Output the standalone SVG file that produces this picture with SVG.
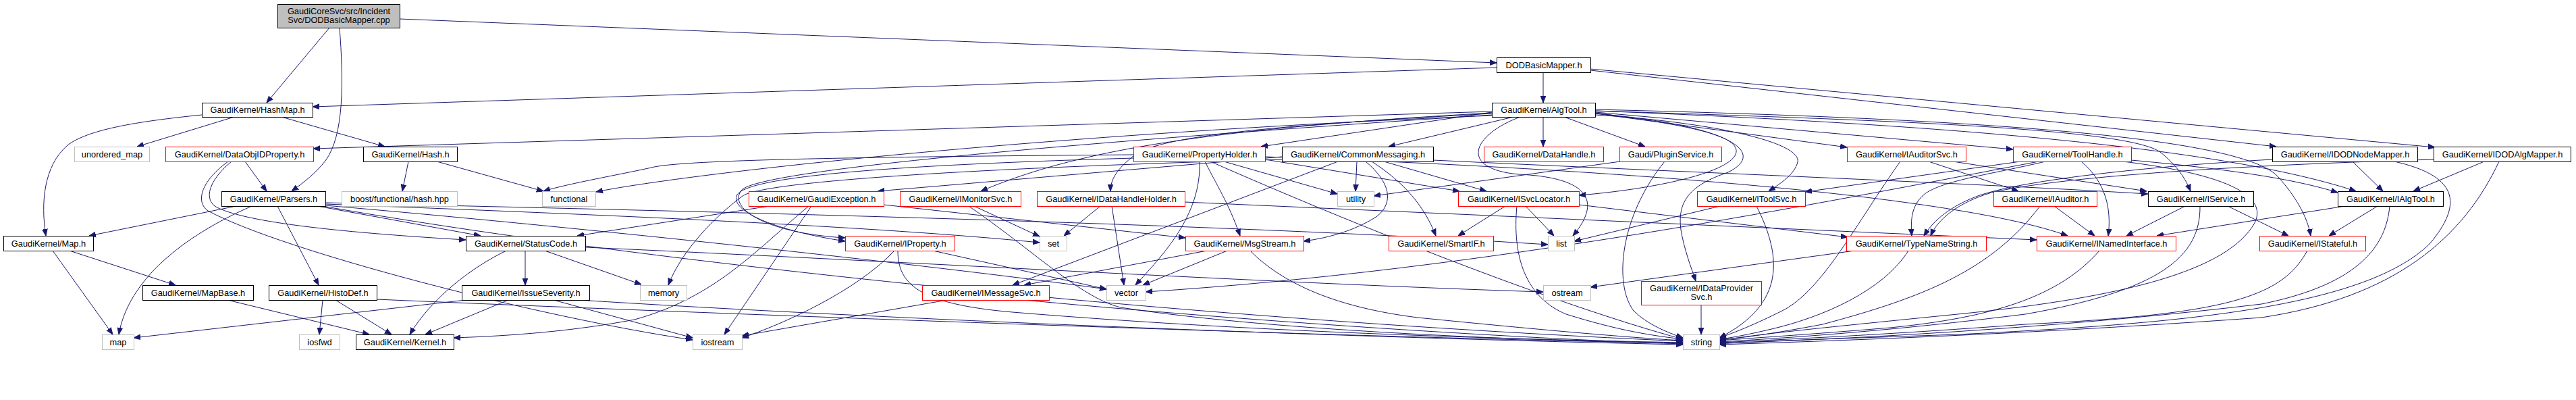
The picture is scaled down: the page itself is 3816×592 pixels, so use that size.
<svg xmlns="http://www.w3.org/2000/svg" width="3816" height="592" viewBox="0 0 3816 592">
<style>
.node rect{fill:#ffffff;stroke:#000000;stroke-width:1}
.node.red rect{stroke:#ff0000}
.node.sys rect{stroke:#bfbfbf}
.node.root rect{fill:#bfbfbf;stroke:#000000}
.node text{font-family:"Liberation Sans",Arial,Helvetica,sans-serif;font-size:12.8px;fill:#000000;text-anchor:middle}
#edges path{fill:none;stroke:#191970;stroke-width:1;marker-end:url(#ah)}
</style>
<defs>
<marker id="ah" viewBox="0 0 10 10" refX="10" refY="5" markerWidth="10" markerHeight="10" markerUnits="userSpaceOnUse" orient="auto">
<path d="M0,1.2 L10,5 L0,8.8 z" fill="#191970" stroke="#191970" stroke-width="1"/>
</marker>
</defs>
<rect width="3816" height="592" fill="#ffffff"/>
<g id="edges">
<path d="M488,41 L395,152"/>
<path d="M503,41 C509,120 510,200 482,238 C468,256 450,270 432,283"/>
<path d="M592,28 L2217,93"/>
<path d="M2217,100 L463,158"/>
<path d="M2286,107 L2286,152"/>
<path d="M2356,104 L3372,217"/>
<path d="M2356,102 L3607,218"/>
<path d="M299,170 C200,180 130,192 100,215 C65,245 60,300 68,349"/>
<path d="M347,173 L203,217"/>
<path d="M417,173 L570,217"/>
<path d="M605,239 L596,283"/>
<path d="M647,239 L805,283"/>
<path d="M363,239 L395,283"/>
<path d="M343,239 C315,262 300,290 318,305 C360,330 520,345 690,355"/>
<path d="M338,239 C300,266 288,298 308,312 C420,372 800,470 1026,503"/>
<path d="M350,305 L132,349"/>
<path d="M373,305 C270,350 190,415 176,495"/>
<path d="M411,305 L472,422"/>
<path d="M470,305 L712,349"/>
<path d="M482,302 C900,318 1300,335 1540,359"/>
<path d="M482,300 C1000,312 1800,330 2293,362"/>
<path d="M482,304 C900,340 1400,395 1639,428"/>
<path d="M478,305 C900,380 1700,470 2493,505"/>
<path d="M478,444 L473,495"/>
<path d="M497,444 L580,495"/>
<path d="M558,443 C1000,462 2000,500 2493,508"/>
<path d="M337,444 L547,495"/>
<path d="M78,371 L167,495"/>
<path d="M103,371 L260,422"/>
<path d="M750,371 C700,395 640,440 607,495"/>
<path d="M778,371 L778,422"/>
<path d="M807,371 L950,421"/>
<path d="M867,366 C1300,385 1900,420 2286,432"/>
<path d="M690,444 L198,500"/>
<path d="M753,444 L630,495"/>
<path d="M820,444 L1026,500"/>
<path d="M857,444 C1300,472 2000,500 2493,510"/>
<path d="M1140,305 L855,349"/>
<path d="M1198,305 C1120,370 1060,440 940,473 C850,490 760,497 672,500"/>
<path d="M1202,305 L1073,495"/>
<path d="M1309,303 L1756,352"/>
<path d="M1325,371 C1270,430 1160,480 1099,500"/>
<path d="M1330,371 C1330,420 1360,450 1500,462 C1900,495 2300,503 2493,507"/>
<path d="M1382,371 L1639,428"/>
<path d="M1403,444 L1099,497"/>
<path d="M1517,444 C1900,480 2300,503 2493,509"/>
<path d="M1443,305 L1540,350"/>
<path d="M1435,305 C1530,370 1600,440 1660,455 C1900,492 2300,505 2493,508"/>
<path d="M1630,305 L1576,349"/>
<path d="M1647,305 L1665,422"/>
<path d="M1755,299 L3017,355"/>
<path d="M1679,229 C1300,232 1010,236 965,248 C920,258 840,272 805,283"/>
<path d="M1679,234 C1300,245 1110,262 1092,288 C1080,310 1140,340 1252,357"/>
<path d="M1785,239 C1800,270 1820,300 1837,349"/>
<path d="M1777,239 C1780,320 1720,380 1682,422"/>
<path d="M1874,236 L2162,283"/>
<path d="M1813,239 L1981,287"/>
<path d="M1793,239 C2000,330 2300,450 2493,502"/>
<path d="M1874,232 C2400,250 2900,290 3063,349"/>
<path d="M2010,239 L2008,283"/>
<path d="M2023,239 C2060,270 2065,300 2040,320 C2010,340 1970,352 1931,357"/>
<path d="M2032,239 C2080,270 2110,305 2127,349"/>
<path d="M2050,239 L2202,283"/>
<path d="M1982,239 L1500,422"/>
<path d="M2123,237 C2500,255 2900,270 3182,287"/>
<path d="M1899,232 L1300,283"/>
<path d="M1899,236 C1400,250 1130,270 1100,290 C1060,320 1010,370 990,422"/>
<path d="M1788,371 L1517,422"/>
<path d="M1818,371 L1693,422"/>
<path d="M1852,371 C1900,420 1980,455 2100,470 C2300,490 2420,500 2493,504"/>
<path d="M2230,305 L2160,349"/>
<path d="M2260,305 L2302,349"/>
<path d="M2247,305 C2240,380 2260,440 2320,465 C2400,490 2450,497 2493,502"/>
<path d="M2339,303 L2737,351"/>
<path d="M2242,173 L2057,217"/>
<path d="M2286,173 L2286,217"/>
<path d="M2317,173 L2437,217"/>
<path d="M2363,168 L2736,218"/>
<path d="M2363,166 L2982,221"/>
<path d="M2252,173 C2180,200 2160,250 2250,258 C2340,262 2380,290 2330,349"/>
<path d="M2363,167 C2500,185 2575,200 2572,225 C2568,255 2450,280 2339,289"/>
<path d="M2363,170 C2530,180 2670,210 2663,240 C2658,258 2640,270 2620,283"/>
<path d="M2363,168 C2560,185 2620,225 2560,255 C2500,275 2485,300 2490,340 C2495,370 2505,395 2512,416"/>
<path d="M2363,164 C2900,185 3300,220 3490,283"/>
<path d="M2363,162 C2900,175 3320,200 3375,262 C3400,290 3418,320 3423,349"/>
<path d="M2363,164 C2800,178 3150,190 3200,225 C3225,245 3238,265 3245,283"/>
<path d="M2210,165 L464,220"/>
<path d="M2210,166 L1868,217"/>
<path d="M2210,167 C1800,190 1600,220 1453,283"/>
<path d="M2210,168 C1900,185 1720,200 1680,230 C1655,250 1645,265 1645,283"/>
<path d="M2210,170 C1600,210 1140,250 1100,280 C1075,305 1130,345 1252,352"/>
<path d="M2210,171 C1500,200 1000,260 883,284"/>
<path d="M2400,239 L2035,290"/>
<path d="M2466,239 C2400,320 2390,420 2420,460 C2440,480 2470,492 2493,500"/>
<path d="M2548,305 L2332,357"/>
<path d="M2602,305 C2640,380 2645,450 2547,500"/>
<path d="M2857,239 L2990,283"/>
<path d="M2893,239 L3180,283"/>
<path d="M2815,239 C2750,330 2700,430 2640,460 C2600,480 2570,492 2547,500"/>
<path d="M2993,239 L2674,284"/>
<path d="M3020,239 C2700,300 2200,400 1697,432"/>
<path d="M3030,239 C2950,258 2870,268 2848,290 C2832,305 2830,325 2832,349"/>
<path d="M3083,239 C3120,270 3128,310 3123,349"/>
<path d="M3157,237 C3300,250 3400,265 3463,285"/>
<path d="M3145,239 C3300,258 3360,290 3340,330 C3300,400 3150,440 2900,465 C2700,485 2600,495 2547,504"/>
<path d="M3043,305 L3103,349"/>
<path d="M3022,305 C2950,400 2850,440 2700,480 C2620,495 2580,500 2547,503"/>
<path d="M3237,305 L3150,349"/>
<path d="M3300,305 L3390,349"/>
<path d="M3259,305 C3260,380 3200,430 3000,465 C2800,490 2650,500 2547,506"/>
<path d="M3110,371 C3050,440 2950,470 2800,485 C2680,495 2600,500 2547,504"/>
<path d="M3418,371 C3380,440 3300,465 3000,480 C2800,495 2650,502 2547,507"/>
<path d="M3474,305 L3195,349"/>
<path d="M3522,305 L3450,349"/>
<path d="M3540,305 C3535,360 3500,420 3350,450 C3100,480 2800,500 2547,508"/>
<path d="M3485,239 L3530,283"/>
<path d="M3366,236 C3200,245 3000,265 2930,290 C2890,305 2865,325 2850,349"/>
<path d="M3547,239 C3640,260 3650,300 3600,360 C3500,460 3200,480 2900,495 C2700,502 2600,505 2547,509"/>
<path d="M3680,239 L3575,283"/>
<path d="M3605,236 C3300,245 3050,262 2950,285 C2900,300 2870,325 2860,349"/>
<path d="M3702,239 C3650,350 3550,440 3350,470 C3000,495 2700,505 2547,510"/>
<path d="M2747,371 L2356,425"/>
<path d="M2827,371 C2790,430 2700,470 2620,488 C2590,495 2565,500 2547,502"/>
<path d="M2520,451 L2520,495"/>
</g>
<g id="n_root" class="node root"><rect x="411.5" y="6.5" width="181" height="35"/><text x="502" y="21">GaudiCoreSvc/src/Incident</text><text x="502" y="33.5">Svc/DODBasicMapper.cpp</text></g>
<g id="n_hashmap" class="node"><rect x="299.5" y="152.5" width="164" height="21"/><text x="381.5" y="166.5">GaudiKernel/HashMap.h</text></g>
<g id="n_dodbasicmapper" class="node"><rect x="2217.5" y="85.5" width="139" height="22"/><text x="2287" y="100.5">DODBasicMapper.h</text></g>
<g id="n_algtool" class="node"><rect x="2210.5" y="152.5" width="153" height="21"/><text x="2287" y="166.5">GaudiKernel/AlgTool.h</text></g>
<g id="n_unordered_map" class="node sys"><rect x="110.5" y="217.5" width="111" height="22"/><text x="166" y="232.5">unordered_map</text></g>
<g id="n_dataobjidproperty" class="node red"><rect x="245.5" y="217.5" width="219" height="22"/><text x="355" y="232.5">GaudiKernel/DataObjIDProperty.h</text></g>
<g id="n_hash" class="node"><rect x="538.5" y="217.5" width="139" height="22"/><text x="608" y="232.5">GaudiKernel/Hash.h</text></g>
<g id="n_propertyholder" class="node red"><rect x="1679.5" y="217.5" width="195" height="22"/><text x="1777" y="232.5">GaudiKernel/PropertyHolder.h</text></g>
<g id="n_commonmessaging" class="node"><rect x="1899.5" y="217.5" width="224" height="22"/><text x="2011.5" y="232.5">GaudiKernel/CommonMessaging.h</text></g>
<g id="n_datahandle" class="node red"><rect x="2198.5" y="217.5" width="177" height="22"/><text x="2287" y="232.5">GaudiKernel/DataHandle.h</text></g>
<g id="n_pluginservice" class="node red"><rect x="2399.5" y="217.5" width="151" height="22"/><text x="2475" y="232.5">Gaudi/PluginService.h</text></g>
<g id="n_iauditorsvc" class="node red"><rect x="2736.5" y="217.5" width="176" height="22"/><text x="2824.5" y="232.5">GaudiKernel/IAuditorSvc.h</text></g>
<g id="n_toolhandle" class="node red"><rect x="2982.5" y="217.5" width="175" height="22"/><text x="3070" y="232.5">GaudiKernel/ToolHandle.h</text></g>
<g id="n_idodnodemapper" class="node"><rect x="3366.5" y="217.5" width="215" height="22"/><text x="3474" y="232.5">GaudiKernel/IDODNodeMapper.h</text></g>
<g id="n_idodalgmapper" class="node"><rect x="3605.5" y="217.5" width="203" height="22"/><text x="3707" y="232.5">GaudiKernel/IDODAlgMapper.h</text></g>
<g id="n_parsers" class="node"><rect x="328.5" y="283.5" width="154" height="22"/><text x="405.5" y="298.5">GaudiKernel/Parsers.h</text></g>
<g id="n_boosthash" class="node sys"><rect x="506.5" y="283.5" width="171" height="22"/><text x="592" y="298.5">boost/functional/hash.hpp</text></g>
<g id="n_functional" class="node sys"><rect x="803.5" y="283.5" width="79" height="22"/><text x="843" y="298.5">functional</text></g>
<g id="n_gaudiexception" class="node red"><rect x="1109.5" y="283.5" width="200" height="22"/><text x="1209.5" y="298.5">GaudiKernel/GaudiException.h</text></g>
<g id="n_imonitorsvc" class="node red"><rect x="1333.5" y="283.5" width="179" height="22"/><text x="1423" y="298.5">GaudiKernel/IMonitorSvc.h</text></g>
<g id="n_idatahandleholder" class="node red"><rect x="1536.5" y="283.5" width="219" height="22"/><text x="1646" y="298.5">GaudiKernel/IDataHandleHolder.h</text></g>
<g id="n_utility" class="node sys"><rect x="1981.5" y="283.5" width="54" height="22"/><text x="2008.5" y="298.5">utility</text></g>
<g id="n_isvclocator" class="node red"><rect x="2160.5" y="283.5" width="179" height="22"/><text x="2250" y="298.5">GaudiKernel/ISvcLocator.h</text></g>
<g id="n_itoolsvc" class="node red"><rect x="2514.5" y="283.5" width="160" height="22"/><text x="2594.5" y="298.5">GaudiKernel/IToolSvc.h</text></g>
<g id="n_iauditor" class="node red"><rect x="2953.5" y="283.5" width="153" height="22"/><text x="3030" y="298.5">GaudiKernel/IAuditor.h</text></g>
<g id="n_iservice" class="node"><rect x="3182.5" y="283.5" width="156" height="22"/><text x="3260.5" y="298.5">GaudiKernel/IService.h</text></g>
<g id="n_ialgtool" class="node"><rect x="3463.5" y="283.5" width="156" height="22"/><text x="3541.5" y="298.5">GaudiKernel/IAlgTool.h</text></g>
<g id="n_map_h" class="node"><rect x="5.5" y="349.5" width="133" height="22"/><text x="72" y="364.5">GaudiKernel/Map.h</text></g>
<g id="n_statuscode" class="node"><rect x="690.5" y="349.5" width="177" height="22"/><text x="779" y="364.5">GaudiKernel/StatusCode.h</text></g>
<g id="n_iproperty" class="node red"><rect x="1252.5" y="349.5" width="162" height="22"/><text x="1333.5" y="364.5">GaudiKernel/IProperty.h</text></g>
<g id="n_set" class="node sys"><rect x="1540.5" y="349.5" width="40" height="22"/><text x="1560.5" y="364.5">set</text></g>
<g id="n_msgstream" class="node red"><rect x="1756.5" y="349.5" width="175" height="22"/><text x="1844" y="364.5">GaudiKernel/MsgStream.h</text></g>
<g id="n_smartif" class="node red"><rect x="2057.5" y="349.5" width="155" height="22"/><text x="2135" y="364.5">GaudiKernel/SmartIF.h</text></g>
<g id="n_list" class="node sys"><rect x="2293.5" y="349.5" width="39" height="22"/><text x="2313" y="364.5">list</text></g>
<g id="n_typenamestring" class="node red"><rect x="2735.5" y="349.5" width="207" height="22"/><text x="2839" y="364.5">GaudiKernel/TypeNameString.h</text></g>
<g id="n_inamedinterface" class="node red"><rect x="3017.5" y="349.5" width="206" height="22"/><text x="3120.5" y="364.5">GaudiKernel/INamedInterface.h</text></g>
<g id="n_istateful" class="node red"><rect x="3347.5" y="349.5" width="157" height="22"/><text x="3426" y="364.5">GaudiKernel/IStateful.h</text></g>
<g id="n_mapbase" class="node"><rect x="211.5" y="422.5" width="164" height="22"/><text x="293.5" y="437.5">GaudiKernel/MapBase.h</text></g>
<g id="n_histodef" class="node"><rect x="398.5" y="422.5" width="160" height="22"/><text x="478.5" y="437.5">GaudiKernel/HistoDef.h</text></g>
<g id="n_issueseverity" class="node"><rect x="684.5" y="422.5" width="189" height="22"/><text x="779" y="437.5">GaudiKernel/IssueSeverity.h</text></g>
<g id="n_memory" class="node sys"><rect x="948.5" y="422.5" width="69" height="22"/><text x="983" y="437.5">memory</text></g>
<g id="n_imessagesvc" class="node red"><rect x="1366.5" y="422.5" width="188" height="22"/><text x="1460.5" y="437.5">GaudiKernel/IMessageSvc.h</text></g>
<g id="n_vector" class="node sys"><rect x="1639.5" y="422.5" width="58" height="22"/><text x="1668.5" y="437.5">vector</text></g>
<g id="n_ostream" class="node sys"><rect x="2286.5" y="422.5" width="70" height="22"/><text x="2321.5" y="437.5">ostream</text></g>
<g id="n_idataprovidersvc" class="node red"><rect x="2431.5" y="416.5" width="178" height="35"/><text x="2520.5" y="431">GaudiKernel/IDataProvider</text><text x="2520.5" y="443.5">Svc.h</text></g>
<g id="n_map" class="node sys"><rect x="151.5" y="495.5" width="47" height="22"/><text x="175" y="510.5">map</text></g>
<g id="n_iosfwd" class="node sys"><rect x="443.5" y="495.5" width="60" height="22"/><text x="473.5" y="510.5">iosfwd</text></g>
<g id="n_kernel" class="node"><rect x="527.5" y="495.5" width="145" height="22"/><text x="600" y="510.5">GaudiKernel/Kernel.h</text></g>
<g id="n_iostream" class="node sys"><rect x="1026.5" y="495.5" width="73" height="22"/><text x="1063" y="510.5">iostream</text></g>
<g id="n_string" class="node sys"><rect x="2493.5" y="495.5" width="54" height="22"/><text x="2520.5" y="510.5">string</text></g>
</svg>
